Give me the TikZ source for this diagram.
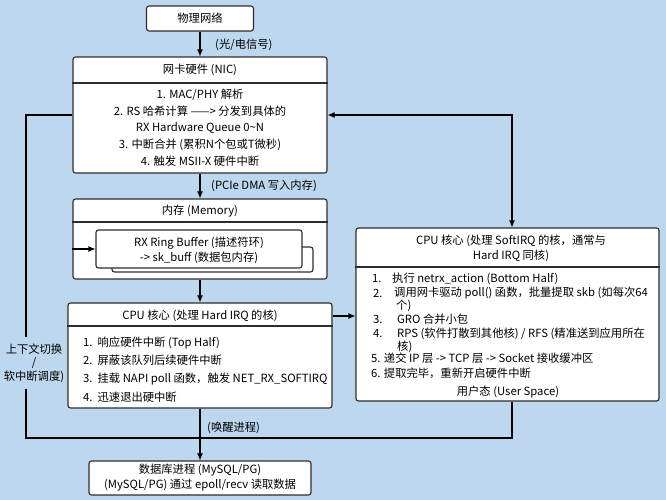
\documentclass[tikz,border=0pt]{standalone}
\usepackage{fontspec}
\setmainfont{Noto Sans CJK SC}
\usetikzlibrary{arrows.meta}
\definecolor{bgblue}{RGB}{189,215,238}
\definecolor{edge}{RGB}{45,45,45}
\tikzset{
  box/.style={draw=edge, fill=white, rounded corners=2.5pt, line width=1.1pt, inner sep=0pt},
  sep/.style={draw=edge, line width=1.1pt},
  link/.style={line width=1.1pt},
  flow/.style={link, -{Latex[length=7pt,width=6pt]}},
  txt/.style={inner sep=0pt}
}
\begin{document}
\begin{tikzpicture}[x=1pt, y=-1pt, every node/.style={font=\fontsize{11.3}{13}\selectfont}]
  % Hintergrund
  \fill[bgblue] (0,0) rectangle (666,500);
  \useasboundingbox (0,0) rectangle (666,500);

  % Physisches Netz
  \node[box, minimum width=107pt, minimum height=25pt] (net) at (200,18.5) {物理网络};

  % Netzwerkkarte
  \node[box, minimum width=254pt, minimum height=116pt] (nic) at (200,115) {};
  \draw[sep] (nic.west |- 0,83) -- (nic.east |- 0,83);
  \node[txt] (nictitle) at (200,70) {网卡硬件 (NIC)};
  \node[txt, align=center, font=\fontsize{11.3}{16.75}\selectfont] (nicbody) at (200,127.5)
    {1. MAC/PHY 解析\\
     2. RS 哈希计算 ——> 分发到具体的\\
     RX Hardware Queue 0\textasciitilde N\\
     3. 中断合并 (累积N个包或T微秒)\\
     4. 触发 MSII-X 硬件中断};

  % Speicher
  \node[box, minimum width=254pt, minimum height=80pt] (mem) at (200,239) {};
  \draw[sep] (mem.west |- 0,222) -- (mem.east |- 0,222);
  \node[txt] (memtitle) at (200,211) {内存 (Memory)};
  \node[box, minimum width=201pt, minimum height=25pt] (ringback) at (212.5,259.5) {};
  \node[box, minimum width=206pt, minimum height=38pt] (ring) at (199,249) {};
  \node[txt, align=center, font=\fontsize{11.3}{15}\selectfont] (ringtext) at (199,250.5)
    {RX Ring Buffer (描述符环)\\ -> sk\_buff (数据包内存)};

  % CPU Hard IRQ
  \node[box, minimum width=264pt, minimum height=105pt] (hard) at (200,355.5) {};
  \draw[sep] (hard.west |- 0,326) -- (hard.east |- 0,326);
  \node[txt] (hardtitle) at (200,316) {CPU 核心 (处理 Hard IRQ 的核)};
  \node[txt, anchor=west, align=left, font=\fontsize{11.3}{18.3}\selectfont] (hardbody) at (83,369.5)
    {1.\ \ 响应硬件中断 (Top Half)\\
     2.\ \ 屏蔽该队列后续硬件中断\\
     3.\ \ 挂载 NAPI poll 函数，触发 NET\_RX\_SOFTIRQ\\
     4.\ \ 迅速退出硬中断};

  % CPU SoftIRQ
  \node[box, minimum width=303pt, minimum height=173pt] (soft) at (507.5,314.5) {};
  \draw[sep] (soft.west |- 0,267) -- (soft.east |- 0,267);
  \node[txt, align=center, font=\fontsize{11.3}{15}\selectfont] (softtitle) at (511,248.5)
    {CPU 核心 (处理 SoftIRQ 的核，通常与\\ Hard IRQ 同核)};
  \node[txt, anchor=west] (s1n) at (372,279) {1.};
  \node[txt, anchor=west] (s1) at (392,279) {执行 netrx\_action (Bottom Half)};
  \node[txt, anchor=west] (s2n) at (373,293) {2.};
  \node[txt, anchor=west] (s2) at (394,293) {调用网卡驱动 poll() 函数，批量提取 skb (如每次64};
  \node[txt, anchor=west] (s2b) at (396,305.5) {个)};
  \node[txt, anchor=west] (s3n) at (373,319.5) {3.};
  \node[txt, anchor=west] (s3) at (397,319.5) {GRO 合并小包};
  \node[txt, anchor=west] (s4n) at (373,334) {4.};
  \node[txt, anchor=west] (s4) at (397,334) {RPS (软件打散到其他核) / RFS (精准送到应用所在};
  \node[txt, anchor=west] (s4b) at (397,346.5) {核)};
  \node[txt, anchor=west] (s5) at (371,358.5) {5. 递交 IP 层 -> TCP 层 -> Socket 接收缓冲区};
  \node[txt, anchor=west] (s6) at (371,373.5) {6. 提取完毕，重新开启硬件中断};
  \node[txt] (user) at (508,392) {用户态 (User Space)};

  % Datenbankprozess
  \node[box, minimum width=222pt, minimum height=34pt, align=center, font=\fontsize{11.3}{15}\selectfont] (db) at (200,478)
    {数据库进程 (MySQL/PG)\\ (MySQL/PG) 通过 epoll/recv 读取数据};

  % Verbindungen
  \draw[flow] (net) -- (nic);
  \node[txt, anchor=west] (lsig) at (215,44.5) {(光/电信号)};
  \draw[flow] (nic) -- (mem);
  \node[txt, anchor=west] (ldma) at (211,186) {(PCIe DMA 写入内存)};
  \draw[flow] (mem.west |- ring.west) -- (ring.west);
  \draw[flow] (mem) -- (hard);
  \draw[flow] (hard.east |- hardtitle) -- (soft.west |- hardtitle);
  \draw[link, {Latex[length=7pt,width=6pt]}-{Latex[length=7pt,width=6pt]}]
    (nic.east) -| ([xshift=4.5pt]soft.north);
  \draw[flow] (hard) -- (db);
  \node[txt, anchor=west] (lwake) at (207,428) {(唤醒进程)};

  % Rueckkopplung links
  \coordinate (lt) at (26,115);
  \coordinate (lb) at (26,438);
  \draw[link] (nic.west) -- (lt) -- (lb) -| ([xshift=4.5pt]soft.south);
  \node[fill=bgblue, inner xsep=1pt, inner ysep=7pt, align=center, font=\fontsize{11.3}{13.5}\selectfont] (lswitch) at (34,363)
    {上下文切换\\ /\\ 软中断调度)};
\end{tikzpicture}
\end{document}
